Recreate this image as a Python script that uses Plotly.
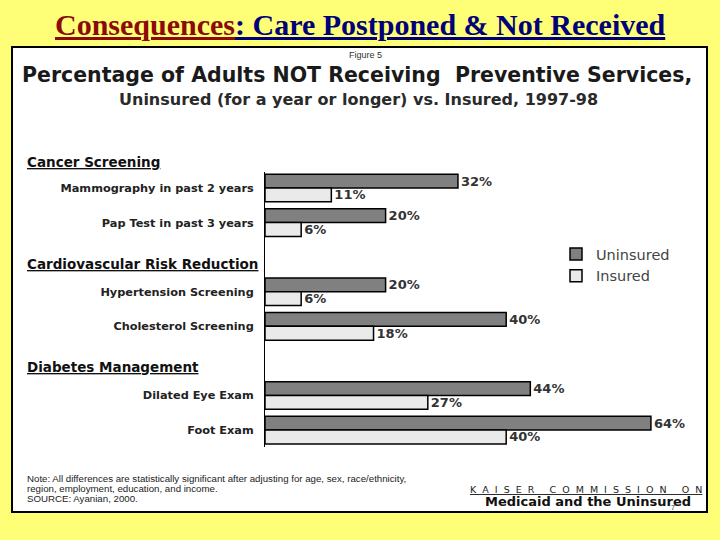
import plotly.graph_objects as go

# ---- data ----
categories = ["Mammography in past 2 years", "Pap Test in past 3 years",
              "Hypertension Screening", "Cholesterol Screening",
              "Dilated Eye Exam", "Foot Exam"]
uninsured = [32, 20, 20, 40, 44, 64]
insured = [11, 6, 6, 18, 27, 40]
slots = [0, 1, 3, 4, 6, 7]          # row positions (gaps leave room for group headers)
groups = ["Cancer Screening", "Cardiovascular Risk Reduction", "Diabetes Management"]
group_px = [162, 264, 367]          # vertical pixel position of group headers
note_lines = ["Note: All differences are statistically significant after adjusting for age, sex, race/ethnicity,",
              "region, employment, education, and income.",
              "SOURCE: Ayanian, 2000."]

W, H = 720, 540
BG = "#FFFF77"
def py(px):
    return 1 - px / H
def px_x(px):
    return px / W

LBL = "DejaVu Sans"
NB = "\u00a0"
fig = go.Figure()
fig.add_trace(go.Bar(
    y=slots, x=uninsured, orientation="h", name="Uninsured",
    marker=dict(color="#808080", line=dict(color="black", width=1.5)),
    width=0.4, offset=-0.4,
    text=[f"{v}%" for v in uninsured], textposition="outside",
    textfont=dict(family=LBL, size=13, color="#333333", weight="bold"),
    constraintext="none", cliponaxis=False, hoverinfo="skip"))
fig.add_trace(go.Bar(
    y=slots, x=insured, orientation="h", name="Insured",
    marker=dict(color="#EAEAEA", line=dict(color="black", width=1.5)),
    width=0.4, offset=0,
    text=[f"{v}%" for v in insured], textposition="outside",
    textfont=dict(family=LBL, size=13, color="#333333", weight="bold"),
    constraintext="none", cliponaxis=False, hoverinfo="skip"))

def spaced(word):
    return (NB + " ").join(list(word))

kaiser = (NB * 4 + " ").join(spaced(w) for w in ["KAISER", "COMMISSION", "ON"])

annotations = []
# page title
annotations.append(dict(
    x=px_x(360), y=py(25), xref="paper", yref="paper", xanchor="center", yanchor="middle",
    showarrow=False,
    text="<b><span style='color:#8B0A0A'><u>Consequences</u></span>"
         "<span style='color:#00007A'><u>: Care Postponed &amp; Not Received</u></span></b>",
    font=dict(family="Liberation Serif", size=30)))
annotations.append(dict(x=px_x(365), y=py(55), xref="paper", yref="paper",
                        xanchor="center", yanchor="middle", showarrow=False,
                        text="Figure 5", font=dict(family="Liberation Sans", size=9, color="#333")))
annotations.append(dict(x=px_x(357), y=py(75), xref="paper", yref="paper",
                        xanchor="center", yanchor="middle", showarrow=False,
                        text="Percentage of Adults NOT Receiving  Preventive Services,",
                        font=dict(family=LBL, size=20.5, color="#1a1a1a", weight="bold")))
annotations.append(dict(x=px_x(358), y=py(99), xref="paper", yref="paper",
                        xanchor="center", yanchor="middle", showarrow=False,
                        text="Uninsured (for a year or longer) vs. Insured, 1997-98",
                        font=dict(family=LBL, size=16, color="#2a2a2a", weight="bold")))
for g, gp in zip(groups, group_px):
    annotations.append(dict(x=px_x(25), y=py(gp), xref="paper", yref="paper",
                            xanchor="left", yanchor="middle", showarrow=False,
                            text=f"<u>{g}</u>",
                            font=dict(family=LBL, size=13.5, color="#111", weight="bold")))
for line, ly in zip(note_lines, [478, 488, 498]):
    annotations.append(dict(
        x=px_x(25), y=py(ly), xref="paper", yref="paper", xanchor="left", yanchor="middle",
        showarrow=False, align="left", text=line,
        font=dict(family="Liberation Sans", size=9.7, color="#222")))
annotations.append(dict(
    x=px_x(586), y=py(489), xref="paper", yref="paper", xanchor="center", yanchor="middle",
    showarrow=False, text=f"<u>{kaiser}</u>",
    font=dict(family=LBL, size=9.5, color="#222")))
annotations.append(dict(
    x=px_x(588), y=py(501), xref="paper", yref="paper", xanchor="center", yanchor="middle",
    showarrow=False, text="<b>Medicaid and the Uninsured</b>",
    font=dict(family=LBL, size=13, color="#111")))
annotations.append(dict(
    x=px_x(673), y=py(507), xref="paper", yref="paper", xanchor="center", yanchor="middle",
    showarrow=False, text="7", font=dict(family="Liberation Sans", size=7, color="#333")))

fig.update_layout(
    width=W, height=H, margin=dict(l=0, r=0, t=0, b=0),
    paper_bgcolor=BG, plot_bgcolor="rgba(0,0,0,0)",
    barmode="overlay",
    shapes=[dict(type="rect", xref="paper", yref="paper", layer="below",
                 x0=px_x(12), x1=px_x(707), y0=py(512), y1=py(47),
                 fillcolor="white", line=dict(color="black", width=2))],
    annotations=annotations,
    xaxis=dict(domain=[px_x(265), px_x(705)], range=[0, (705 - 265) / 6.03],
               visible=False, fixedrange=True),
    yaxis=dict(domain=[py(447), py(172)], range=[7.49, -0.463],
               tickmode="array", tickvals=slots, ticktext=categories,
               showline=True, linecolor="black", linewidth=1, ticks="",
               showgrid=False, zeroline=False, ticklabelstandoff=8, fixedrange=True,
               tickfont=dict(family=LBL, size=11.3, color="#222", weight="bold")),
    showlegend=True,
    legend=dict(x=px_x(556), y=py(238), xanchor="left", yanchor="top",
                bgcolor="rgba(0,0,0,0)", traceorder="normal",
                font=dict(family=LBL, size=14.5, color="#444")),
)
fig.write_html(
    "out.html",
    config={"displayModeBar": False, "staticPlot": True},
    post_script="document.body.style.margin='0px';document.body.style.padding='0px';"
                f"document.body.style.background='{BG}';")
